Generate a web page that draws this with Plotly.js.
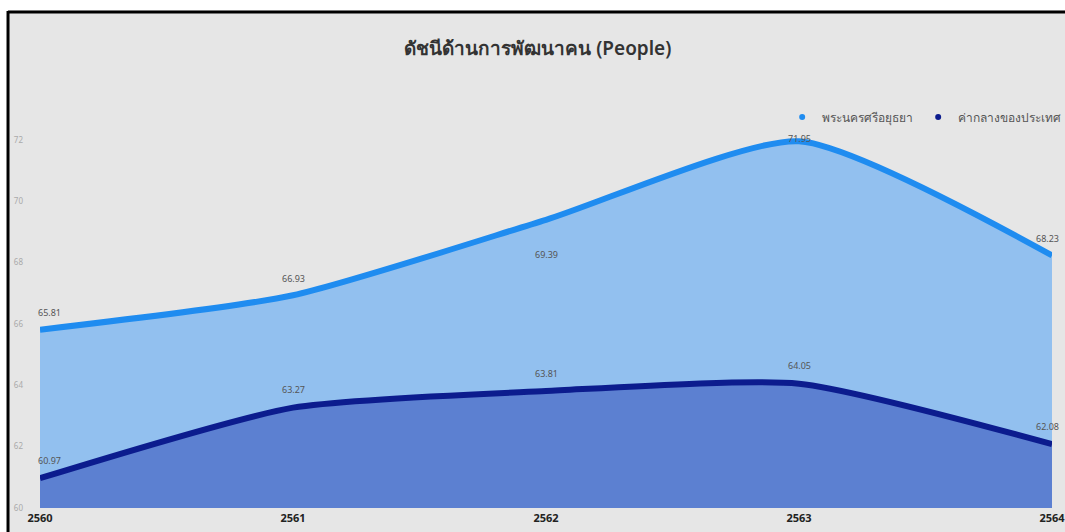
<!DOCTYPE html>
<html>
<head>
<meta charset="utf-8">
<script src="https://cdn.plot.ly/plotly-3.0.1.min.js"></script>
<style>html,body{margin:0;padding:0;background:#fff;overflow:hidden;}#chart{width:1065px;height:532px;}</style>
</head>
<body>
<div id="chart"></div>
<script>
const years = [2560, 2561, 2562, 2563, 2564];
const ayutthaya = [65.81, 66.93, 69.39, 71.95, 68.23];
const national = [60.97, 63.27, 63.81, 64.05, 62.08];
const seriesNames = ['พระนครศรีอยุธยา', 'ค่ากลางของประเทศ'];
const yTicks = [60, 62, 64, 66, 68, 70, 72];
const chartTitle = 'ดัชนีด้านการพัฒนาคน (People)';

const font = '"Noto Sans", "Open Sans", sans-serif';
const fmt = v => v.toFixed(2);

const traces = [
  {
    x: years, y: ayutthaya, type: 'scatter', mode: 'lines',
    line: {color: '#1f8cf0', width: 6, shape: 'spline', smoothing: 0.6},
    fill: 'tozeroy', fillcolor: '#92c0ef',
    cliponaxis: false, showlegend: false, hoverinfo: 'skip'
  },
  {
    x: years, y: national, type: 'scatter', mode: 'lines',
    line: {color: '#0c1c8e', width: 6, shape: 'spline', smoothing: 0.6},
    fill: 'tozeroy', fillcolor: '#5c80d1',
    cliponaxis: false, showlegend: false, hoverinfo: 'skip'
  },
  {
    x: [null], y: [null], type: 'scatter', mode: 'markers', name: seriesNames[0],
    marker: {color: '#1f8cf0', size: 6}
  },
  {
    x: [null], y: [null], type: 'scatter', mode: 'markers', name: seriesNames[1],
    marker: {color: '#0c1c8e', size: 6}
  }
];

// label offsets (pixels) per point index
function xOff(i) { return i === 0 ? 9 : (i === years.length - 1 ? -5 : 0); }
const annotations = [];
ayutthaya.forEach((v, i) => {
  let ys = 17;
  if (i === 2) ys = -35;
  if (i === 3) ys = 3;
  annotations.push({
    x: years[i], y: v, xref: 'x', yref: 'y', text: fmt(v), showarrow: false,
    xshift: xOff(i), yshift: ys,
    font: {size: 9, color: '#555', family: font}
  });
});
national.forEach((v, i) => {
  annotations.push({
    x: years[i], y: v, xref: 'x', yref: 'y', text: fmt(v), showarrow: false,
    xshift: xOff(i), yshift: 18,
    font: {size: 9, color: '#555', family: font}
  });
});

const layout = {
  width: 1065, height: 532,
  margin: {l: 40, r: 13, t: 109, b: 24, pad: 0, autoexpand: false},
  paper_bgcolor: '#e6e6e6',
  plot_bgcolor: 'rgba(0,0,0,0)',
  font: {family: font, color: '#555'},
  title: {
    text: chartTitle,
    font: {size: 19, color: '#333', family: font, weight: 600},
    x: 0.505, xanchor: 'center', y: 0.91, yanchor: 'middle'
  },
  xaxis: {
    range: [2560, 2564], tickvals: years, ticktext: years.map(String),
    showgrid: false, zeroline: false, showline: false, automargin: false,
    tickfont: {size: 11, color: '#222', family: font, weight: 'bold'},
    ticks: '', ticklabelstandoff: 2, ticklabeloverflow: 'allow'
  },
  yaxis: {
    range: [60, 73], tickvals: yTicks,
    showgrid: false, zeroline: false, showline: false, automargin: false,
    tickfont: {size: 8, color: '#aaa', family: font},
    ticks: '', ticklabelstandoff: 16
  },
  showlegend: true,
  legend: {
    orientation: 'h', x: 1.014, xanchor: 'right', y: 0.98, yanchor: 'middle',
    font: {size: 12, color: '#555', family: font},
    bgcolor: 'rgba(0,0,0,0)', itemwidth: 30, tracegroupgap: 0
  },
  annotations: annotations,
  shapes: [
    // white strips outside the frame
    {type: 'rect', xref: 'paper', yref: 'paper', layer: 'below',
     x0: -0.1, x1: -0.0326, y0: -0.2, y1: 1.4, fillcolor: '#ffffff', line: {width: 0}},
    {type: 'rect', xref: 'paper', yref: 'paper', layer: 'below',
     x0: -0.1, x1: 1.1, y0: 1.2466, y1: 1.4, fillcolor: '#ffffff', line: {width: 0}},
    // black frame lines (top and left)
    {type: 'line', xref: 'paper', yref: 'paper', layer: 'below',
     x0: -0.0316, x1: 1.1, y0: 1.2431, y1: 1.2431, line: {color: '#000', width: 3}},
    {type: 'line', xref: 'paper', yref: 'paper', layer: 'below',
     x0: -0.0316, x1: -0.0316, y0: -0.2, y1: 1.2456, line: {color: '#000', width: 3}}
  ]
};

Plotly.newPlot('chart', traces, layout, {displayModeBar: false, staticPlot: true});
</script>
</body>
</html>
